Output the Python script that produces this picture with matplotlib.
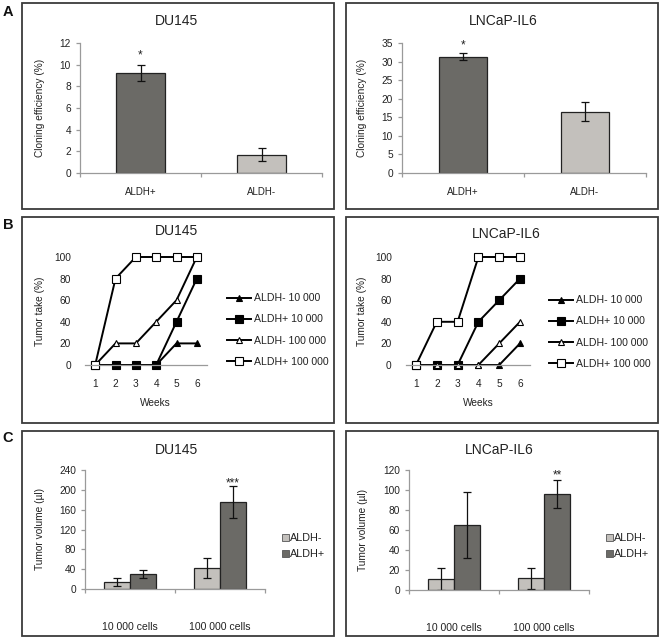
import matplotlib
matplotlib.use("Agg")
import matplotlib.pyplot as plt
from matplotlib.patches import Rectangle, Patch
import numpy as np

plt.rcParams['font.family'] = ['Liberation Sans', 'DejaVu Sans']

W, H = 662, 640

# ---------------- data ----------------
# Panel A: cloning efficiency (%)
a_categories = ["ALDH+", "ALDH-"]
a_du145 = [9.25, 1.7]
a_du145_err = [0.75, 0.6]
a_lncap = [31.3, 16.5]
a_lncap_err = [1.0, 2.6]

# Panel B: tumor take (%) per week
weeks = [1, 2, 3, 4, 5, 6]
b_labels = ["ALDH- 10 000", "ALDH+ 10 000", "ALDH- 100 000", "ALDH+ 100 000"]
b_du145 = [
    [0, 0, 0, 0, 20, 20],
    [0, 0, 0, 0, 40, 80],
    [0, 20, 20, 40, 60, 100],
    [0, 80, 100, 100, 100, 100],
]
b_lncap = [
    [0, 0, 0, 0, 0, 20],
    [0, 0, 0, 40, 60, 80],
    [0, 0, 0, 0, 20, 40],
    [0, 40, 40, 100, 100, 100],
]

# Panel C: tumor volume (µl)
c_categories = ["10 000 cells", "100 000 cells"]
c_du145_neg = [14, 42]
c_du145_neg_err = [8, 20]
c_du145_pos = [30, 175]
c_du145_pos_err = [8, 32]
c_lncap_neg = [11, 12]
c_lncap_neg_err = [11, 10.5]
c_lncap_pos = [65, 96]
c_lncap_pos_err = [33, 14]

# ---------------- styles ----------------
DARK = "#6b6a66"
LIGHT = "#c3c0bc"
EDGE = "#222222"
SPINE = "#9a9a9a"
TXT = "#222222"
FS = 7.3

fig = plt.figure(figsize=(W / 100, H / 100), dpi=100)


def rect(x0, y0, x1, y1):
    return [x0 / W, 1 - y1 / H, (x1 - x0) / W, (y1 - y0) / H]


def fx(x):
    return x / W


def fy(y):
    return 1 - y / H


# panel boxes
for (x0, x1) in [(22, 334), (346, 658)]:
    for (y0, y1) in [(3, 209), (217, 423), (431, 636)]:
        fig.add_artist(Rectangle((fx(x0), fy(y1)), (x1 - x0) / W, (y1 - y0) / H,
                                 transform=fig.transFigure, fill=False,
                                 edgecolor="#3a3a3a", lw=1.3))

# panel letters
for letter, y in [("A", 12), ("B", 225), ("C", 438)]:
    fig.text(fx(8), fy(y), letter, fontsize=10.5, fontweight="bold",
             ha="center", va="center", color="#111")


def style_axes(ax):
    for s in ["top", "right"]:
        ax.spines[s].set_visible(False)
    for s in ["left", "bottom"]:
        ax.spines[s].set_color(SPINE)
        ax.spines[s].set_linewidth(0.9)
    ax.tick_params(axis="both", colors=SPINE, labelcolor=TXT, labelsize=FS,
                   length=3, width=0.9)
    ax.set_facecolor("none")


def cat_bar_axes(ax, cats, labelpad, fs):
    ax.set_xlim(-0.5, len(cats) - 0.5)
    ax.set_xticks(np.arange(-0.5, len(cats), 1.0))
    ax.set_xticklabels([])
    ax.set_xticks(np.arange(len(cats)), minor=True)
    ax.set_xticklabels(cats, minor=True)
    ax.tick_params(axis="x", which="minor", length=0, pad=labelpad,
                   labelsize=fs, labelcolor=TXT)


def star(ax, x, ytop, offset_px, s):
    ax.annotate(s, xy=(x, ytop), xytext=(0, offset_px * 0.72),
                textcoords="offset points", ha="center", va="baseline",
                fontsize=8.5, color=TXT)


# ---------------- Panel A ----------------
def panel_a(axrect, vals, errs, ymax, ystep, title, tpos, ylab_x, star_off):
    ax = fig.add_axes(rect(*axrect))
    style_axes(ax)
    x = np.arange(len(a_categories))
    ax.bar(x, vals, width=0.4, color=[DARK, LIGHT], edgecolor=EDGE, lw=0.9,
           yerr=errs, error_kw=dict(ecolor="#111", elinewidth=0.9, capsize=3,
                                    capthick=0.9))
    ax.set_ylim(0, ymax)
    ax.set_yticks(np.arange(0, ymax + 0.1, ystep))
    cat_bar_axes(ax, a_categories, 10, 7.0)
    ax.set_ylabel("Cloning efficiency (%)", fontsize=FS, color=TXT)
    ax.yaxis.set_label_coords(fx(ylab_x), fy((axrect[1] + axrect[3]) / 2),
                              transform=fig.transFigure)
    fig.text(fx(tpos[0]), fy(tpos[1]), title, fontsize=10, ha="center",
             va="center", color=TXT)
    star(ax, 0, vals[0] + errs[0], star_off, "*")
    return ax


panel_a((80, 43, 322, 173), a_du145, a_du145_err, 12, 2, "DU145", (177, 21), 45, 6)
panel_a((402, 43, 646, 173), a_lncap, a_lncap_err, 35, 5, "LNCaP-IL6", (503, 21), 367, 5)

# ---------------- Panel B ----------------
markers = [dict(marker="^", mfc="black", mec="black", ms=5),
           dict(marker="s", mfc="black", mec="black", ms=5.5),
           dict(marker="^", mfc="white", mec="black", ms=5),
           dict(marker="s", mfc="white", mec="black", ms=5.5)]


def panel_b(axrect, series, title, tpos, ylab_x, xlab_pos, leg_pos):
    ax = fig.add_axes(rect(*axrect))
    style_axes(ax)
    for vals, lab, mk in zip(series, b_labels, markers):
        ax.plot(weeks, vals, color="black", lw=1.4, label=lab, clip_on=False,
                mew=0.8, **mk)
    ax.set_xlim(0.5, 6.5)
    ax.set_ylim(0, 100)
    ax.set_xticks(weeks)
    ax.set_yticks(np.arange(0, 101, 20))
    ax.tick_params(axis="x", length=0, pad=10)
    ax.tick_params(axis="y", length=0, pad=10)
    ax.spines["left"].set_visible(False)
    ax.set_ylabel("Tumor take (%)", fontsize=FS, color=TXT)
    ax.yaxis.set_label_coords(fx(ylab_x), fy((axrect[1] + axrect[3]) / 2),
                              transform=fig.transFigure)
    fig.text(fx(xlab_pos[0]), fy(xlab_pos[1]), "Weeks", fontsize=FS,
             ha="center", va="center", color=TXT)
    fig.text(fx(tpos[0]), fy(tpos[1]), title, fontsize=10, ha="center",
             va="center", color=TXT)
    leg = ax.legend(loc="center left", bbox_to_anchor=(fx(leg_pos[0]), fy(leg_pos[1])),
                    bbox_transform=fig.transFigure, frameon=False, fontsize=7.6,
                    handlelength=2.3, handletextpad=0.25, labelspacing=1.05,
                    borderpad=0, borderaxespad=0)
    for t in leg.get_texts():
        t.set_color(TXT)
    return ax


panel_b((85, 257, 207, 365), b_du145, "DU145", (177, 231), 45, (155, 403), (227, 330))
panel_b((405.6, 257, 530.4, 365), b_lncap, "LNCaP-IL6", (506, 234), 367, (478, 403), (549, 332))

# ---------------- Panel C ----------------
def panel_c(axrect, neg, neg_err, pos, pos_err, ymax, ystep, title, tpos,
            ylab_x, leg_pos, star_s, star_off):
    ax = fig.add_axes(rect(*axrect))
    style_axes(ax)
    x = np.arange(len(c_categories))
    bw = 0.29
    ek = dict(ecolor="#111", elinewidth=0.9, capsize=3, capthick=0.9)
    ax.bar(x - bw / 2, neg, width=bw, color=LIGHT, edgecolor=EDGE, lw=0.9,
           yerr=neg_err, error_kw=ek, label="ALDH-")
    ax.bar(x + bw / 2, pos, width=bw, color=DARK, edgecolor=EDGE, lw=0.9,
           yerr=pos_err, error_kw=ek, label="ALDH+")
    ax.set_ylim(0, ymax)
    ax.set_yticks(np.arange(0, ymax + 0.1, ystep))
    cat_bar_axes(ax, c_categories, 24, 7.6)
    ax.set_ylabel("Tumor volume (µl)", fontsize=FS, color=TXT)
    ax.yaxis.set_label_coords(fx(ylab_x), fy((axrect[1] + axrect[3]) / 2),
                              transform=fig.transFigure)
    fig.text(fx(tpos[0]), fy(tpos[1]), title, fontsize=10, ha="center",
             va="center", color=TXT)
    star(ax, 1 + bw / 2, pos[1] + pos_err[1], star_off, star_s)
    handles = [Patch(facecolor=LIGHT, edgecolor="#555", lw=0.6),
               Patch(facecolor=DARK, edgecolor="#555", lw=0.6)]
    leg = ax.legend(handles, ["ALDH-", "ALDH+"], loc="center left",
                    bbox_to_anchor=(fx(leg_pos[0]), fy(leg_pos[1])),
                    bbox_transform=fig.transFigure, frameon=False, fontsize=7.8,
                    handlelength=0.6, handleheight=0.6, handletextpad=0.15,
                    labelspacing=0.55, borderpad=0, borderaxespad=0)
    for t in leg.get_texts():
        t.set_color(TXT)
    return ax


panel_c((85, 470, 265, 589), c_du145_neg, c_du145_neg_err, c_du145_pos,
        c_du145_pos_err, 240, 40, "DU145", (177, 450), 45, (282, 546), "***", 0)
panel_c((409, 470, 589, 590), c_lncap_neg, c_lncap_neg_err, c_lncap_pos,
        c_lncap_pos_err, 120, 20, "LNCaP-IL6", (499, 450), 368, (606, 546), "**", 2)

fig.savefig("out.png", dpi=100)
